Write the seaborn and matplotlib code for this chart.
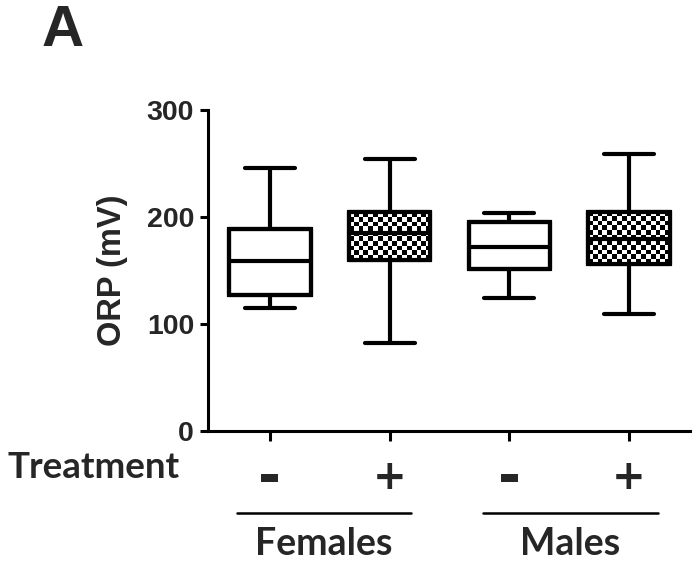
import numpy as np
import pandas as pd
import matplotlib
matplotlib.use("Agg")
import matplotlib.pyplot as plt
from matplotlib.patches import PathPatch
import seaborn as sns

# ---- data (five-number summaries) ----
groups = ["F-", "F+", "M-", "M+"]
tick_labels = ["-", "+", "-", "+"]
f_minus = [115.0, 126.5, 158.5, 188.6, 245.5]
f_plus = [82.5, 160.0, 185.0, 204.5, 254.0]
m_minus = [124.5, 151.0, 172.3, 194.8, 204.0]
m_plus = [109.0, 155.8, 179.0, 205.0, 259.0]
treated = [False, True, False, True]
sex_labels = ["Females", "Males"]

df = pd.DataFrame({
    "group": np.repeat(groups, 5),
    "ORP": f_minus + f_plus + m_minus + m_plus,
})

sns.set_style("white")
plt.rcParams["font.family"] = ["Liberation Sans", "DejaVu Sans"]

W, H = 694, 571
fig = plt.figure(figsize=(W / 100, H / 100), dpi=100)
AX_BOT, AX_TOP = 430.7, 110
ax = fig.add_axes([208 / W, 1 - AX_BOT / H, (690 - 208) / W, (AX_BOT - AX_TOP) / H])

LW = 3.0
sns.boxplot(data=df, x="group", y="ORP", order=groups, whis=(0, 100),
            width=0.68, color="white", linecolor="black", linewidth=LW,
            saturation=1, ax=ax)

# cap widths / styling of the box lines
for line in ax.lines:
    xd = np.asarray(line.get_xdata(), dtype=float)
    yd = np.asarray(line.get_ydata(), dtype=float)
    if len(xd) == 2 and yd[0] == yd[1]:
        c = xd.mean()
        half = abs(xd[1] - xd[0]) / 2
        if half < 0.3:  # caps
            line.set_xdata([c - 0.21, c + 0.21])
            line.set_solid_capstyle("round")
        else:
            line.set_solid_capstyle("butt")
    line.set_zorder(4)

ax.set_xlim(-0.518, 3.51)
ax.set_ylim(0, 300)

# checkerboard fill for treated groups
boxes = [p for p in ax.patches]
cell_x, cell_y = 0.040, 4.5
for i, p in enumerate(boxes):
    if i < len(treated) and treated[i]:
        ext = p.get_path().get_extents()
        nx = max(1, int(round(ext.width / cell_x)))
        ny = max(1, int(round(ext.height / cell_y)))
        arr = np.add.outer(np.arange(ny), np.arange(nx)) % 2
        im = ax.imshow(arr, cmap="gray", extent=(ext.x0, ext.x1, ext.y0, ext.y1),
                       origin="lower", interpolation="nearest", aspect="auto",
                       zorder=p.get_zorder() + 0.1)
        im.set_clip_path(p)
    ax.add_patch(PathPatch(p.get_path(), fill=False, edgecolor="black",
                           lw=LW, joinstyle="round", zorder=5,
                           transform=p.get_transform()))

ax.set_xlim(-0.518, 3.51)
ax.set_ylim(0, 300)
ax.set_aspect("auto")

for s in ["top", "right"]:
    ax.spines[s].set_visible(False)
for s in ["left", "bottom"]:
    ax.spines[s].set_linewidth(2.2)
    ax.spines[s].set_color("black")

ax.set_yticks([0, 100, 200, 300])
ax.set_yticklabels(["0", "100", "200", "300"], fontsize=20.5, fontweight="bold")
ax.set_xticks(range(len(groups)))
ax.set_xticklabels([""] * len(groups))
ax.tick_params(axis="y", direction="out", length=6, width=2.2, pad=4, color="black", left=True)
ax.tick_params(axis="x", direction="out", length=7.2, width=2.2, pad=14, color="black", bottom=True)

tr = ax.get_xaxis_transform()
def px_to_axy(py):
    return (AX_BOT - py) / (AX_BOT - AX_TOP)

# treatment sign labels under each tick
for i, lab in enumerate(tick_labels):
    if lab == "-":
        ax.text(i, px_to_axy(494), lab, transform=tr, ha="center", va="baseline",
                fontsize=40, fontweight="bold", family=["DejaVu Sans"])
    else:
        ax.text(i, px_to_axy(489), lab, transform=tr, ha="center", va="baseline",
                fontsize=29, fontweight="bold", family=["DejaVu Sans"])

ax.set_xlabel("")
ax.set_ylabel("ORP (mV)", fontsize=23.5, fontweight="bold")
ax.yaxis.set_label_coords(-0.165, 0.5)

# group lines and labels
fam = ["Lato", "DejaVu Sans"]
spans = [(-0.276, 1.178), (1.78, 3.24)]
for (a, b), lab in zip(spans, sex_labels):
    ax.plot([a, b], [px_to_axy(513)] * 2, color="black", lw=1.8, transform=tr, clip_on=False)
    ax.text((a + b) / 2, px_to_axy(555), lab, transform=tr, ha="center", va="baseline",
            fontsize=27, fontweight="bold", family=fam)

fig.text(7 / W, 1 - 478 / H, "Treatment", ha="left", va="baseline",
         fontsize=26.5, fontweight="bold", family=fam)
fig.text(63 / W, 1 - 31 / H, "A", ha="center", va="center",
         fontsize=42, fontweight="bold")

fig.savefig("out.png", dpi=100)
